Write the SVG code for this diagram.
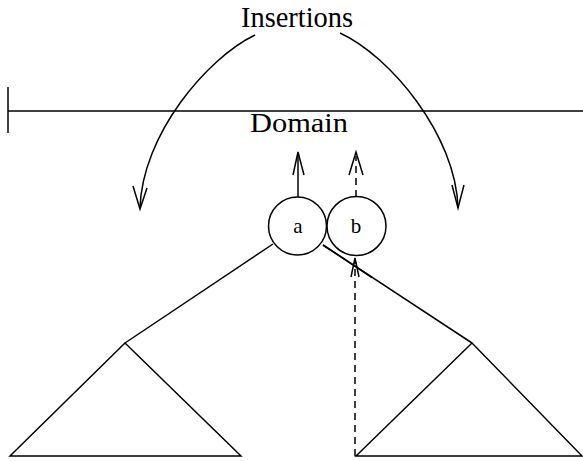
<svg xmlns="http://www.w3.org/2000/svg" width="583" height="461" viewBox="0 0 583 461">
<style>
.ln{fill:none;stroke:#000;stroke-width:1.5}
.ds{fill:none;stroke:#000;stroke-width:1.5;stroke-dasharray:7,5}
.nd{fill:#fff;stroke:#000;stroke-width:1.5}
text{font-family:"Liberation Serif","Times New Roman",serif;fill:#000}
</style>
<rect width="583" height="461" fill="#fff"/>
<g id="domain">
<line class="ln" x1="8" y1="111" x2="583" y2="111"/>
<line class="ln" x1="8" y1="87" x2="8" y2="133"/>
<text x="299" y="132" font-size="27" text-anchor="middle" textLength="98" lengthAdjust="spacingAndGlyphs">Domain</text>
</g>
<text id="insertions" x="297" y="27" font-size="29" text-anchor="middle" textLength="112" lengthAdjust="spacingAndGlyphs">Insertions</text>
<g id="connectors">
<path class="ln" d="M255,35 C207,58 142,135 140,208"/>
<path class="ln" d="M133,186 L140,209 L147,188"/>
<path class="ln" d="M340,33 C390,56 456,135 458,208"/>
<path class="ln" d="M452,185 L458,208 L464,185"/>
<line class="ln" x1="298" y1="197" x2="298" y2="153"/>
<path class="ln" d="M293,175 L298,152 L304,175"/>
<line class="ds" x1="356" y1="197" x2="356" y2="156"/>
<path class="ln" d="M349,175 L356,152 L363,175"/>
<line class="ln" x1="273" y1="244" x2="125" y2="343"/>
<line class="ln" x1="323" y1="245" x2="472" y2="343"/>
<line class="ds" x1="355" y1="456" x2="355" y2="262"/>
<path class="ln" d="M351,277 L355,258 L359,277"/>
</g>
<g id="node-a">
<circle class="nd" cx="297.5" cy="226" r="29"/>
<text x="298" y="233" font-size="21" text-anchor="middle">a</text>
</g>
<g id="node-b">
<circle class="nd" cx="356.5" cy="226" r="29.5"/>
<text x="356" y="233" font-size="21" text-anchor="middle">b</text>
</g>
<path class="ln" d="M323,245 L372,277.5"/>
<g id="tree-left">
<path class="ln" d="M10,456 L125,343 L241,456 Z"/>
</g>
<g id="tree-right">
<path class="ln" d="M356,456 L472,343 L582,456 Z"/>
</g>
</svg>
